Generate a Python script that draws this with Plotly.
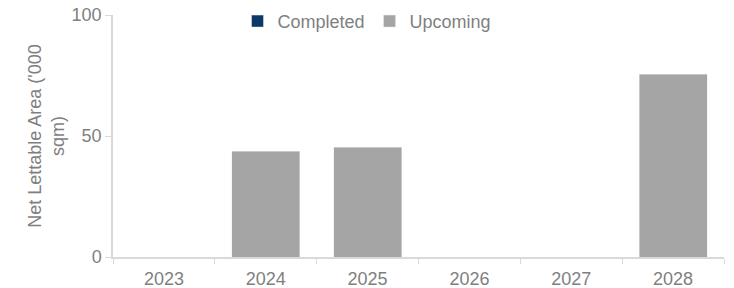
import plotly.graph_objects as go

years = ["2023", "2024", "2025", "2026", "2027", "2028"]
completed = [0, 0, 0, 0, 0, 0]
upcoming = [0, 43.8, 45.3, 0, 0, 75.5]
y_ticks = [0, 50, 100]

gray_text = "#7f7f7f"
axis_col = "#d9d9d9"
font_family = "Liberation Sans, Arial, sans-serif"

fig = go.Figure()
fig.add_trace(go.Bar(name="Completed", x=years, y=completed, marker_color="#0b3a66"))
fig.add_trace(go.Bar(name="Upcoming", x=years, y=upcoming, marker_color="#a5a5a5"))

fig.update_layout(
    width=734, height=288,
    margin=dict(l=113, r=10, t=15, b=31, autoexpand=False),
    paper_bgcolor="white", plot_bgcolor="white",
    barmode="stack", bargap=0.333,
    font=dict(family=font_family, size=18, color=gray_text),
    showlegend=True,
    legend=dict(orientation="h", xref="container", yref="container",
                x=0.5, xanchor="center", y=0.99, yanchor="top",
                traceorder="normal",
                font=dict(size=18, color=gray_text), itemwidth=30,
                tracegroupgap=0, bgcolor="rgba(0,0,0,0)"),
)
fig.update_xaxes(
    type="category", showline=True, linecolor=axis_col, linewidth=1.5,
    ticks="outside", tickson="boundaries", ticklen=5, tickcolor=axis_col,
    showgrid=False, zeroline=False, ticklabelstandoff=5,
    tickfont=dict(size=18, color=gray_text),
)
fig.update_yaxes(
    range=[0, 100], tickvals=y_ticks, showline=True, linecolor=axis_col, linewidth=1.5,
    ticks="outside", ticklen=6, tickcolor=axis_col, showgrid=False, zeroline=False,
    tickfont=dict(size=18, color=gray_text),
    title=dict(text="Net Lettable Area ('000<br>sqm)", font=dict(size=18, color=gray_text), standoff=2),
)
fig.write_html("out.html", config={"displayModeBar": False},
               post_script="document.body.style.margin='0';document.body.style.overflow='hidden';")
